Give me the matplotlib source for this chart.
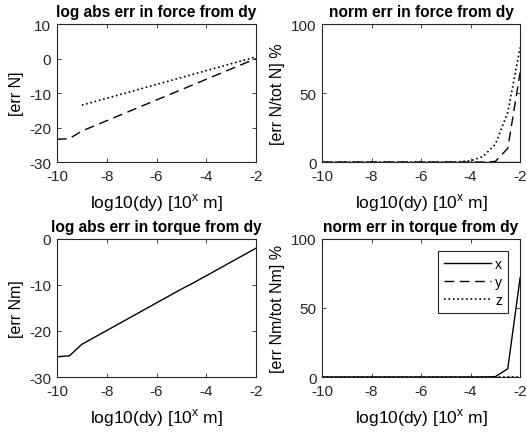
import numpy as np
import matplotlib
matplotlib.use('Agg')
import matplotlib.pyplot as plt

# sample positions, log10 of the step dy
logdy = np.arange(-10, -1.99, 0.5)

# log10 of absolute error in force (x component is exactly zero -> not drawn)
force_log_y = [-23.4, -23.2, -21.0, -19.5, -18.0, -16.5, -15.0, -13.5, -12.0,
               -10.5, -9.0, -7.5, -6.0, -4.5, -3.0, -1.5, 0.0]
force_log_z = [np.nan, np.nan, -13.5, -12.5, -11.5, -10.5, -9.5, -8.5, -7.5,
               -6.5, -5.5, -4.5, -3.5, -2.5, -1.5, -0.5, 0.5]

# normalised force error in percent
force_norm_x = [0] * 17
force_norm_y = [0, 0, 0, 0, 0, 0, 0, 0, 0, 0, 0, 0, 0, 0, 0.5, 10, 65]
force_norm_z = [0, 0, 0, 0, 0, 0, 0, 0, 0, 0, 0, 0.2, 1, 4, 13, 36, 83]

# log10 of absolute error in torque (only x is non-zero)
torque_log_x = [-25.6, -25.4, -22.9, -21.4, -19.9, -18.4, -16.9, -15.4, -13.9,
                -12.4, -10.9, -9.5, -8.0, -6.5, -5.0, -3.5, -2.0]

# normalised torque error in percent
torque_norm_x = [0, 0, 0, 0, 0, 0, 0, 0, 0, 0, 0, 0, 0, 0, 0.3, 6, 72]
torque_norm_y = [0] * 17
torque_norm_z = [0] * 17

xticks = [-10, -8, -6, -4, -2]
xlab = r'log10(dy) [10$^\mathregular{x}$ m]'

plt.rcParams['font.family'] = ['Liberation Sans', 'DejaVu Sans']
plt.rcParams['mathtext.fontset'] = 'custom'
plt.rcParams['mathtext.rm'] = 'Liberation Sans'
plt.rcParams['axes.unicode_minus'] = False

edge = '#262626'
fig = plt.figure(figsize=(5.27, 4.35), dpi=100)
ax1 = fig.add_axes([0.108, 0.625, 0.378, 0.3175])
ax2 = fig.add_axes([0.611, 0.625, 0.376, 0.3175])
ax3 = fig.add_axes([0.108, 0.131, 0.378, 0.3175])
ax4 = fig.add_axes([0.611, 0.131, 0.376, 0.3175])

dash = (0, (7, 4))
ax1.plot(logdy, force_log_y, color='k', lw=1.0, linestyle=dash)
ax1.plot(logdy, force_log_z, color='k', lw=1.2, linestyle=':')
ax1.set_ylim(-30, 10)
ax1.set_yticks([-30, -20, -10, 0, 10])
ax1.set_title('log abs err in force from dy', fontweight='bold')
ax1.set_ylabel('[err N]')

ax2.plot(logdy, force_norm_x, color='k', lw=1.0, linestyle='-')
ax2.plot(logdy, force_norm_y, color='k', lw=1.0, linestyle=dash)
ax2.plot(logdy, force_norm_z, color='k', lw=1.2, linestyle=':')
ax2.set_ylim(0, 100)
ax2.set_yticks([0, 50, 100])
ax2.set_title('norm err in force from dy', fontweight='bold')
ax2.set_ylabel('[err N/tot N] %')

ax3.plot(logdy, torque_log_x, color='k', lw=1.0, linestyle='-')
ax3.set_ylim(-30, 0)
ax3.set_yticks([-30, -20, -10, 0])
ax3.set_title('log abs err in torque from dy', fontweight='bold')
ax3.set_ylabel('[err Nm]')

ax4.plot(logdy, torque_norm_x, color='k', lw=1.0, linestyle='-', label='x')
ax4.plot(logdy, torque_norm_y, color='k', lw=1.0, linestyle=dash, label='y')
ax4.plot(logdy, torque_norm_z, color='k', lw=1.2, linestyle=':', label='z')
ax4.set_ylim(0, 100)
ax4.set_yticks([0, 50, 100])
ax4.set_title('norm err in torque from dy', fontweight='bold')
ax4.set_ylabel('[err Nm/tot Nm] %')
leg = ax4.legend(loc='upper right', handlelength=3.4, fancybox=False,
                 framealpha=1, borderaxespad=0.9, labelspacing=0.3,
                 handletextpad=0.3, fontsize=10)
leg.get_frame().set_edgecolor(edge)
leg.get_frame().set_linewidth(0.8)

for ax in (ax1, ax2, ax3, ax4):
    ax.set_xlim(-10, -2)
    ax.set_xticks(xticks)
    ax.set_xlabel(xlab, fontsize=12.5, labelpad=6)
    ax.yaxis.label.set_size(11.5)
    ax.title.set_size(11.2)
    ax.tick_params(direction='in', top=True, right=True, length=3,
                   width=0.6, colors=edge, labelsize=11)
    ax.tick_params(axis='x', pad=5)
    ax.tick_params(axis='y', pad=4)
    for s in ax.spines.values():
        s.set_color(edge)
        s.set_linewidth(0.8)

fig.savefig('out.png', dpi=100)
